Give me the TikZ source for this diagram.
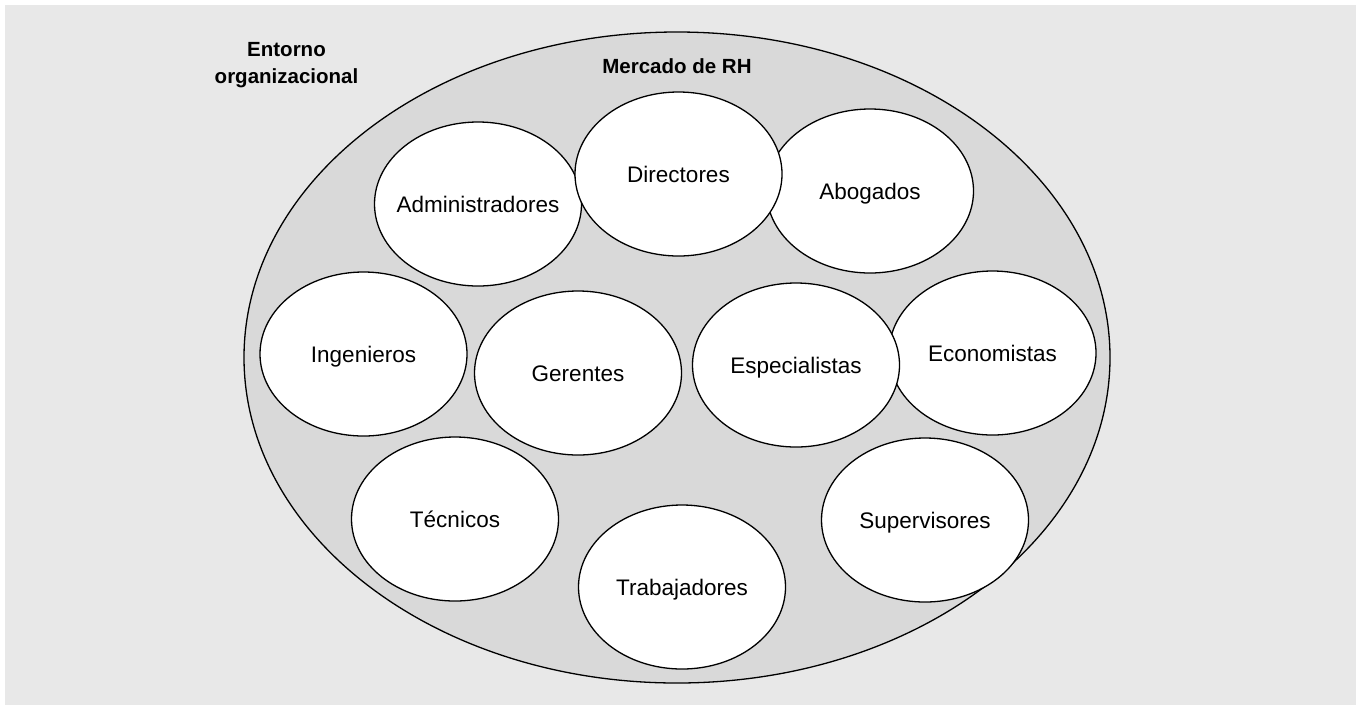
\documentclass[tikz,border=0pt]{standalone}
\usepackage{fontspec}
\setmainfont{Liberation Sans}
\usetikzlibrary{shapes.geometric}
\definecolor{bgray}{HTML}{E8E8E8}
\definecolor{egray}{HTML}{D9D9D9}
\begin{document}
\begin{tikzpicture}[x=1pt,y=-1pt,
  cell/.style={ellipse,draw=black,line width=1.3pt,fill=white,
    minimum width=207pt,minimum height=164pt,inner sep=0pt,inner xsep=-14pt,
    font=\fontsize{22.5}{22.5}\selectfont,text height=16pt,text depth=0pt},
  blabel/.style={font=\fontsize{20.5}{27}\selectfont\bfseries,align=center,inner sep=0pt}]
\useasboundingbox (0,0) rectangle (1356,705);
\fill[bgray] (5,5) rectangle (1356,705);
\node[ellipse,draw=black,line width=1.3pt,fill=egray,minimum width=866pt,minimum height=651pt,inner sep=0pt] (mkt) at (677,357.5) {};
\node[blabel,anchor=base] (mlab) at (677,73) {Mercado de RH};
\node[blabel,anchor=base] (env) at (286.5,83) {Entorno\\organizacional};
\node[cell] (abo) at (870,191) {Abogados};
\node[cell] (adm) at (478,204) {Administradores};
\node[cell] (dir) at (678.5,174) {Directores};
\node[cell] (ing) at (363.5,354) {Ingenieros};
\node[cell] (ger) at (578,373) {Gerentes};
\node[cell] (eco) at (992.5,353) {Economistas};
\node[cell] (esp) at (796,365) {Especialistas};
\node[cell] (tec) at (455,519) {Técnicos};
\node[cell] (tra) at (682,587) {Trabajadores};
\node[cell] (sup) at (925,520) {Supervisores};
\end{tikzpicture}
\end{document}
